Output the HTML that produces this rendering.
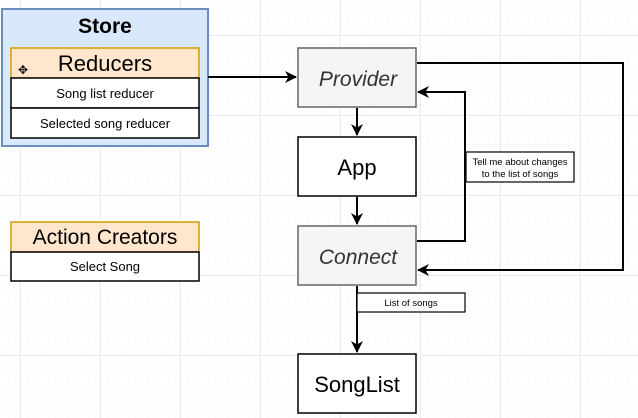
<!DOCTYPE html>
<html><head><style>
html,body{margin:0;padding:0;background:#fff;}
svg{display:block;font-family:"Liberation Sans",Helvetica,Arial,sans-serif;}
</style></head><body>
<svg width="638" height="418" viewBox="0 0 638 418" xmlns="http://www.w3.org/2000/svg">
<defs>
<pattern id="minor" width="10" height="10" patternUnits="userSpaceOnUse" x="0" y="5">
<path d="M10 0V10M0 10H10" stroke="#f6f6f6" stroke-width="1" fill="none"/></pattern>
<pattern id="major" width="80" height="80" patternUnits="userSpaceOnUse" x="20" y="35">
<path d="M0.5 0V80M0 0.5H80" stroke="#ececec" stroke-width="1" fill="none"/></pattern>
<marker id="ah" markerWidth="12" markerHeight="12" refX="11" refY="6" orient="auto" markerUnits="userSpaceOnUse">
<path d="M0 0L12 6L0 12L3.5 6Z" fill="#000"/></marker>
</defs>
<rect width="638" height="418" fill="url(#minor)"/>
<rect width="638" height="418" fill="url(#major)"/>

<!-- Store -->
<rect x="2" y="9" width="206" height="137" fill="#dae8fc" stroke="#6c8ebf" stroke-width="2"/>
<text x="105" y="33" font-size="21" font-weight="bold" text-anchor="middle">Store</text>
<rect x="11" y="48" width="188" height="30" fill="#ffe6cc" stroke="#d79b00" stroke-width="1.5"/>
<text x="105" y="71" font-size="22" text-anchor="middle">Reducers</text>
<text x="23" y="74" font-size="12" text-anchor="middle">✥</text>
<rect x="11" y="78" width="188" height="30" fill="#fff" stroke="#000" stroke-width="1.5"/>
<text x="105" y="98" font-size="13" text-anchor="middle">Song list reducer</text>
<rect x="11" y="108" width="188" height="30" fill="#fff" stroke="#000" stroke-width="1.5"/>
<text x="105" y="128" font-size="13" text-anchor="middle">Selected song reducer</text>

<!-- Action creators -->
<rect x="11" y="222" width="188" height="30" fill="#ffe6cc" stroke="#d79b00" stroke-width="1.5"/>
<text x="105" y="244" font-size="21" text-anchor="middle">Action Creators</text>
<rect x="11" y="252" width="188" height="29" fill="#fff" stroke="#000" stroke-width="1.5"/>
<text x="105" y="271" font-size="13" text-anchor="middle">Select Song</text>

<!-- connectors -->
<g stroke="#000" stroke-width="2" fill="none">
<path d="M208 77H296" marker-end="url(#ah)"/>
<path d="M357 108V135" marker-end="url(#ah)"/>
<path d="M357 197V224" marker-end="url(#ah)"/>
<path d="M357 286V352" marker-end="url(#ah)"/>
<path d="M417 63H623V270H418" marker-end="url(#ah)"/>
<path d="M417 241H465V92H418" marker-end="url(#ah)"/>
</g>

<!-- nodes -->
<rect x="298" y="48" width="118" height="59" fill="#f5f5f5" stroke="#666" stroke-width="1.5"/>
<text x="358" y="86" font-size="21" font-style="italic" fill="#333" text-anchor="middle">Provider</text>
<rect x="298" y="137" width="118" height="59" fill="#fff" stroke="#000" stroke-width="1.5"/>
<text x="357" y="175" font-size="22" text-anchor="middle">App</text>
<rect x="298" y="226" width="118" height="59" fill="#f5f5f5" stroke="#666" stroke-width="1.5"/>
<text x="358" y="264" font-size="21" font-style="italic" fill="#333" text-anchor="middle">Connect</text>
<rect x="298" y="354" width="118" height="59" fill="#fff" stroke="#000" stroke-width="1.5"/>
<text x="357" y="392" font-size="22" text-anchor="middle">SongList</text>

<!-- labels -->
<rect x="466" y="152" width="108" height="30" fill="#fff" stroke="#000" stroke-width="1.2"/>
<text x="520" y="165" font-size="9.5" text-anchor="middle">Tell me about changes</text>
<text x="520" y="177" font-size="9.5" text-anchor="middle">to the list of songs</text>
<rect x="357" y="293" width="108" height="19" fill="#fff" stroke="#000" stroke-width="1.2"/>
<text x="411" y="306" font-size="9.5" text-anchor="middle">List of songs</text>
</svg>
</body></html>
